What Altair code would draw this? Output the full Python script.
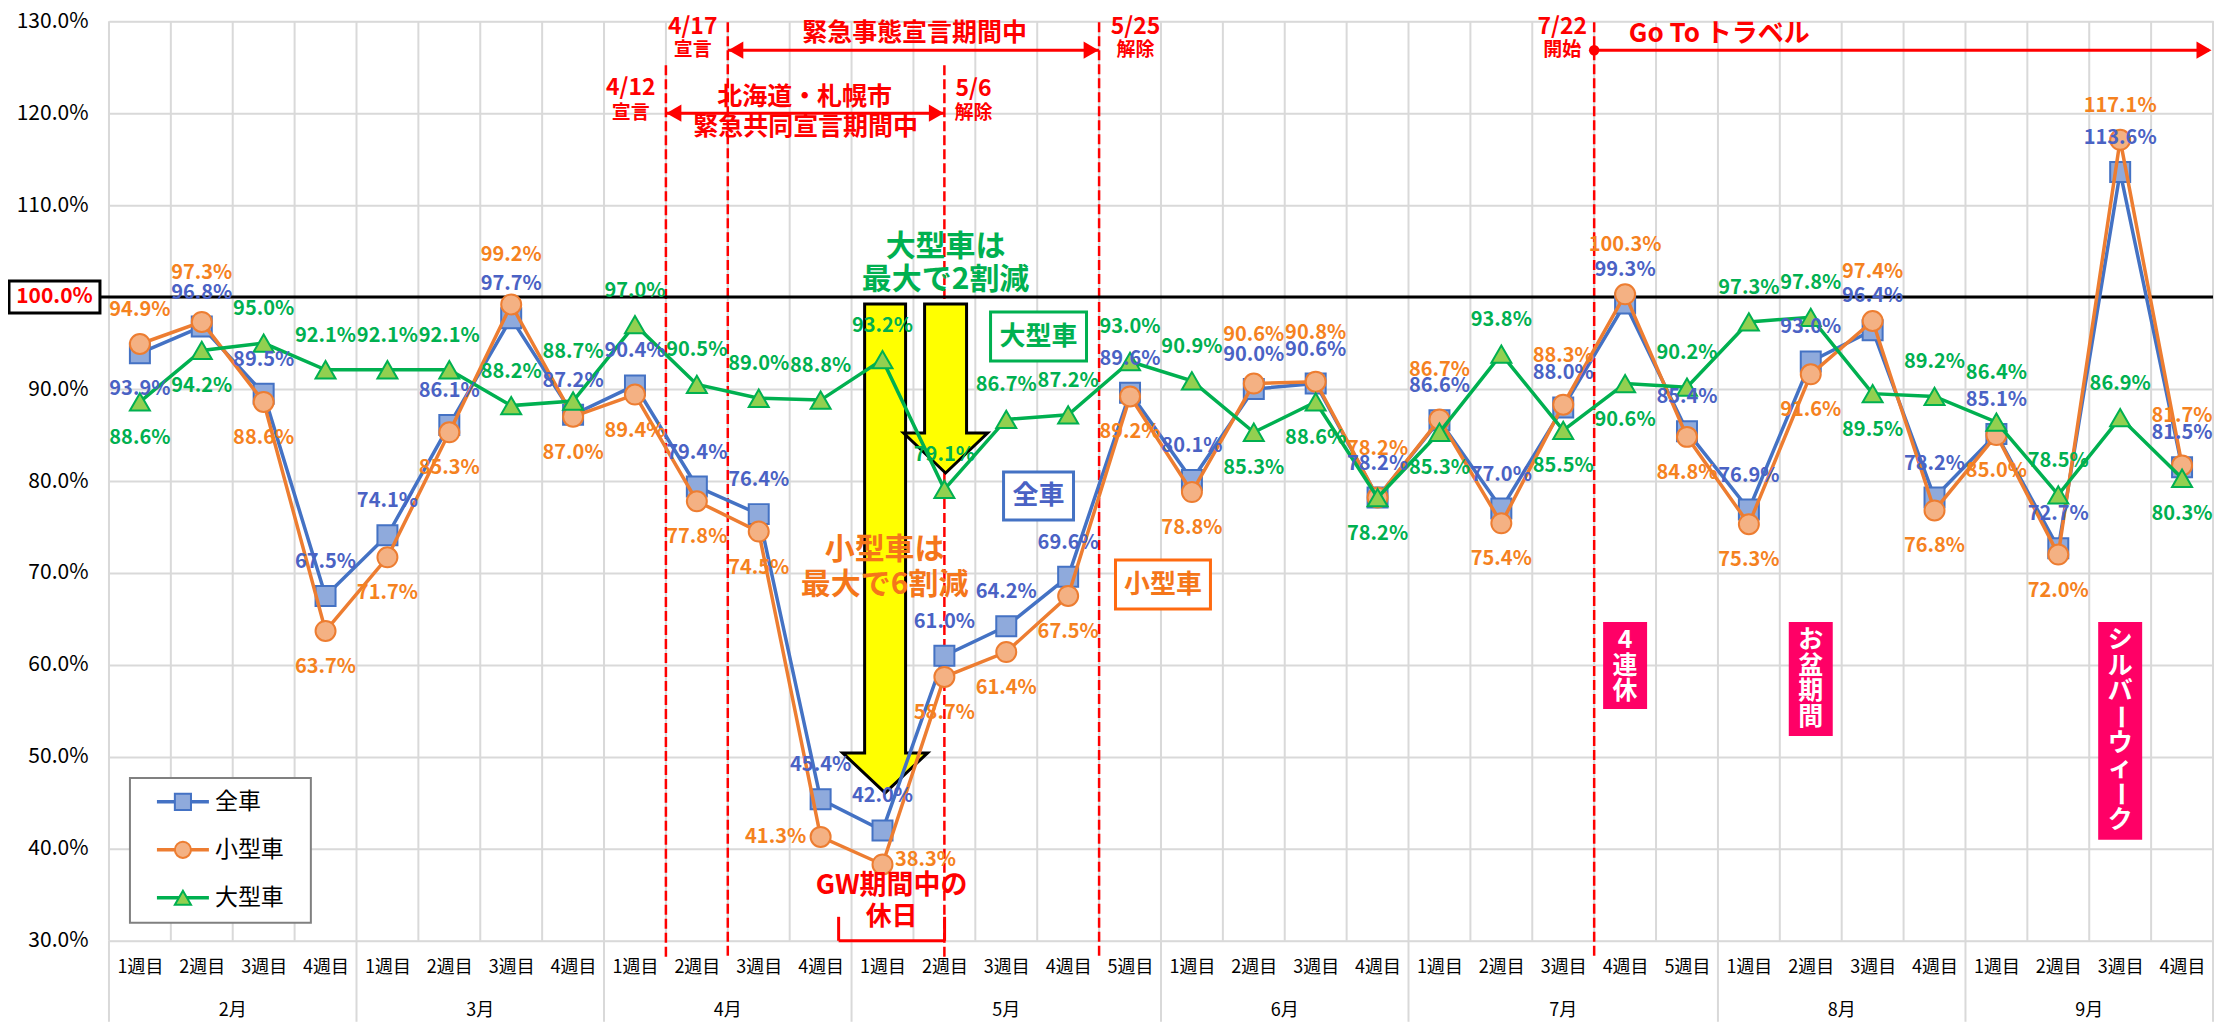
import altair as alt
import pandas as pd

# ---------------- data ----------------
week_labels = ["1週目", "2週目", "3週目", "4週目",
               "1週目", "2週目", "3週目", "4週目",
               "1週目", "2週目", "3週目", "4週目",
               "1週目", "2週目", "3週目", "4週目", "5週目",
               "1週目", "2週目", "3週目", "4週目",
               "1週目", "2週目", "3週目", "4週目", "5週目",
               "1週目", "2週目", "3週目", "4週目",
               "1週目", "2週目", "3週目", "4週目"]
months = ["2月", "3月", "4月", "5月", "6月", "7月", "8月", "9月"]
weeks_per_month = [4, 4, 4, 5, 4, 5, 4, 4]

series_names = ["全車", "小型車", "大型車"]
all_cars = [93.9, 96.8, 89.5, 67.5, 74.1, 86.1, 97.7, 87.2, 90.4, 79.4, 76.4, 45.4,
            42.0, 61.0, 64.2, 69.6, 89.6, 80.1, 90.0, 90.6, 78.2, 86.6, 77.0, 88.0,
            99.3, 85.4, 76.9, 93.0, 96.4, 78.2, 85.1, 72.7, 113.6, 81.5]
small_cars = [94.9, 97.3, 88.6, 63.7, 71.7, 85.3, 99.2, 87.0, 89.4, 77.8, 74.5, 41.3,
              38.3, 58.7, 61.4, 67.5, 89.2, 78.8, 90.6, 90.8, 78.2, 86.7, 75.4, 88.3,
              100.3, 84.8, 75.3, 91.6, 97.4, 76.8, 85.0, 72.0, 117.1, 81.7]
large_cars = [88.6, 94.2, 95.0, 92.1, 92.1, 92.1, 88.2, 88.7, 97.0, 90.5, 89.0, 88.8,
              93.2, 79.1, 86.7, 87.2, 93.0, 90.9, 85.3, 88.6, 78.2, 85.3, 93.8, 85.5,
              90.6, 90.2, 97.3, 97.8, 89.5, 89.2, 86.4, 78.5, 86.9, 80.3]

# data-label placement codes (a: above, A: higher above, b: below, l: left, r: right)
all_pos = ["b"] + ["a"] * 33
small_pos = ["a", "A", "b", "b", "b", "b", "A", "b", "b", "b", "b", "l", "r", "b", "b", "b", "b",
             "b", "A", "A", "A", "A", "b", "A", "A", "b", "b", "b", "A", "b", "b", "b", "a", "A"]
large_pos = ["b", "b", "a", "a", "a", "a", "a", "A", "a", "a", "a", "a", "a", "a", "a", "a", "a",
             "a", "b", "b", "b", "b", "a", "b", "b", "a", "a", "a", "b", "a", "A", "a", "a", "b"]

# ---------------- layout / style ----------------
W, H = 2105, 920
N = len(week_labels)
COLW = W / N
YMIN, YMAX = 30, 130
YPX = H / (YMAX - YMIN)
FONT = "Noto Sans CJK JP"
OFFSETS = {"a": (0, -34), "A": (0, -49), "b": (0, 36), "l": (-45, 0), "r": (43, -4)}

BLUE_LINE, BLUE_FILL, BLUE_TXT = "#4472C4", "#8FAADC", "#4A62C4"
ORANGE_LINE, ORANGE_FILL, ORANGE_TXT = "#ED7D31", "#F4B183", "#F5821F"
GREEN_LINE, GREEN_FILL, GREEN_TXT = "#00B050", "#92D050", "#00B050"
RED = "#FF0000"
PINK = "#FF0066"
GRID = "#D9D9D9"

styles = {
    "全車": dict(line=BLUE_LINE, fill=BLUE_FILL, txt=BLUE_TXT, shape="square"),
    "小型車": dict(line=ORANGE_LINE, fill=ORANGE_FILL, txt=ORANGE_TXT, shape="circle"),
    "大型車": dict(line=GREEN_LINE, fill=GREEN_FILL, txt=GREEN_TXT, shape="triangle-up"),
}

rows = []
for name, vals, pos in zip(series_names, [all_cars, small_cars, large_cars],
                           [all_pos, small_pos, large_pos]):
    for i, (v, p) in enumerate(zip(vals, pos)):
        dx, dy = OFFSETS[p]
        rows.append(dict(series=name, i=i, v=v, lx=i + dx / COLW, ly=v - dy / YPX,
                         label=f"{v:.1f}%", tc=styles[name]["txt"]))
df = pd.DataFrame(rows)


def xp(idx):
    return (idx + 0.5) * COLW


def ypx(val):
    return (YMAX - val) * YPX


xscale = alt.Scale(domain=[-0.5, N - 0.5], nice=False, zero=False)
yscale = alt.Scale(domain=[YMIN, YMAX], nice=False, zero=False)
label_array = "[" + ",".join(f"'{w}'" for w in week_labels) + "]"
xaxis = alt.Axis(values=list(range(N)), labelExpr=f"{label_array}[datum.value]",
                 grid=False, ticks=False, domain=False, labelFontSize=18,
                 labelPadding=18, labelColor="#000000", labelAngle=0,
                 labelOverlap=False, labelFont=FONT, title=None)
yaxis = alt.Axis(values=list(range(YMIN, YMAX + 1, 10)),
                 labelExpr="datum.value == 100 ? '' : format(datum.value, '.1f') + '%'",
                 grid=True, gridColor=GRID, gridWidth=2, ticks=False, domain=False,
                 labelFontSize=21, labelPadding=21, labelColor="#000000",
                 labelFont=FONT, title=None)

X = lambda f: alt.X(f, scale=xscale, axis=xaxis, title=None)
Y = lambda f: alt.Y(f, scale=yscale, axis=yaxis, title=None)
PX = lambda f: alt.X(f, scale=None, axis=None)
PY = lambda f: alt.Y(f, scale=None, axis=None)

BOTTOM_PAD = 81
layers = []

# vertical grid lines at category boundaries
bounds = pd.DataFrame({"b": [k - 0.5 for k in range(N + 1)]})
layers.append(alt.Chart(bounds).mark_rule(color=GRID, strokeWidth=2).encode(
    x=X("b:Q"), y=alt.value(0), y2=alt.value(H)))

# month separators below axis
sep = [-0.5]
for n in weeks_per_month:
    sep.append(sep[-1] + n)
layers.append(alt.Chart(pd.DataFrame({"b": sep})).mark_rule(color=GRID, strokeWidth=2).encode(
    x=X("b:Q"), y=alt.value(H), y2=alt.value(H + BOTTOM_PAD)))

# red dashed event lines
dash_df = pd.DataFrame([
    dict(x=xp(8.5), y1=44, y2=937),
    dict(x=xp(9.5), y1=1, y2=937),
    dict(x=xp(13), y1=44, y2=937),
    dict(x=xp(15.5), y1=1, y2=937),
    dict(x=xp(23.5), y1=1, y2=937),
])
layers.append(alt.Chart(dash_df).mark_rule(color=RED, strokeWidth=2.5, strokeDash=[10, 4]).encode(
    x=PX("x:Q"), y=PY("y1:Q"), y2="y2:Q"))

# 100% reference line
layers.append(alt.Chart(pd.DataFrame({"d": [0]})).mark_rule(color="#000000", strokeWidth=3).encode(
    y=alt.datum(100), x=alt.value(-9), x2=alt.value(W)))

# yellow arrows (custom symbol paths)
def arrow_path(a, b, h):
    return (f"M{-a:.4f},-1L{a:.4f},-1L{a:.4f},{h:.4f}L{b:.4f},{h:.4f}L0,1"
            f"L{-b:.4f},{h:.4f}L{-a:.4f},{h:.4f}Z")

big_h = 489.0
small_h = 169.0
yarrow = pd.DataFrame([
    dict(x=776.5, y=283 + big_h / 2, sz=big_h ** 2,
         shape=arrow_path(20.5 / (big_h / 2), 42.5 / (big_h / 2), (732 - (283 + big_h / 2)) / (big_h / 2))),
    dict(x=837.0, y=283 + small_h / 2, sz=small_h ** 2,
         shape=arrow_path(21 / (small_h / 2), 42 / (small_h / 2), (412 - (283 + small_h / 2)) / (small_h / 2))),
])
layers.append(alt.Chart(yarrow).mark_point(filled=True, opacity=1, fill="#FFFF00", stroke="#000000",
                                           strokeWidth=3, strokeJoin="miter").encode(
    x=PX("x:Q"), y=PY("y:Q"), shape=alt.Shape("shape:N", scale=None), size=alt.Size("sz:Q", scale=None)))

# boxes (series name boxes, pink event boxes, 100% box)
box_df = pd.DataFrame([
    dict(x1=882, x2=978, y1=291, y2=340, f="#FFFFFF", st=GREEN_LINE, sw=3),
    dict(x1=895, x2=965, y1=451, y2=499, f="#FFFFFF", st=BLUE_LINE, sw=3),
    dict(x1=1007, x2=1102, y1=539, y2=588, f="#FFFFFF", st="#FF6A10", sw=3),
    dict(x1=xp(24) - 22, x2=xp(24) + 22, y1=601, y2=688, f=PINK, st=PINK, sw=0),
    dict(x1=xp(27) - 22, x2=xp(27) + 22, y1=601, y2=715, f=PINK, st=PINK, sw=0),
    dict(x1=xp(32) - 22, x2=xp(32) + 22, y1=601, y2=819, f=PINK, st=PINK, sw=0),
    dict(x1=-100, x2=-9, y1=ypx(100) - 16, y2=ypx(100) + 16, f="#FFFFFF", st="#000000", sw=3),
])
layers.append(alt.Chart(box_df).mark_rect().encode(
    x=PX("x1:Q"), x2="x2:Q", y=PY("y1:Q"), y2="y2:Q",
    fill=alt.Fill("f:N", scale=None), stroke=alt.Stroke("st:N", scale=None),
    strokeWidth=alt.StrokeWidth("sw:Q", scale=None)))

# series lines + markers
for name in series_names:
    st = styles[name]
    base = alt.Chart(df).transform_filter(alt.datum.series == name)
    layers.append(base.mark_line(color=st["line"], strokeWidth=3.5).encode(x=X("i:Q"), y=Y("v:Q")))
    layers.append(base.mark_point(shape=st["shape"], size=400, filled=True, opacity=1,
                                  fill=st["fill"], stroke=st["line"], strokeWidth=2).encode(
        x=X("i:Q"), y=Y("v:Q")))

# data labels
layers.append(alt.Chart(df).mark_text(font=FONT, fontWeight="bold", fontSize=20,
                                      align="center", baseline="middle").encode(
    x=X("lx:Q"), y=Y("ly:Q"), text="label:N", color=alt.Color("tc:N", scale=None)))

# annotation texts
ann = pd.DataFrame([
    dict(x=522, y=67, t="4/12", c=RED, s=23),
    dict(x=522, y=92, t="宣言", c=RED, s=19),
    dict(x=584, y=6, t="4/17", c=RED, s=23),
    dict(x=584, y=29, t="宣言", c=RED, s=19),
    dict(x=865, y=68, t="5/6", c=RED, s=23),
    dict(x=865, y=92, t="解除", c=RED, s=19),
    dict(x=1027, y=6, t="5/25", c=RED, s=23),
    dict(x=1027, y=29, t="解除", c=RED, s=19),
    dict(x=1454, y=6, t="7/22", c=RED, s=23),
    dict(x=1454, y=29, t="開始", c=RED, s=19),
    dict(x=806, y=12, t="緊急事態宣言期間中", c=RED, s=25),
    dict(x=696, y=76, t="北海道・札幌市", c=RED, s=25),
    dict(x=697, y=106, t="緊急共同宣言期間中", c=RED, s=25),
    dict(x=1611, y=13, t="Go To トラベル", c=RED, s=26),
    dict(x=837, y=226, t="大型車は", c=GREEN_TXT, s=30),
    dict(x=837, y=259, t="最大で2割減", c=GREEN_TXT, s=30),
    dict(x=776, y=529, t="小型車は", c="#F5761A", s=30),
    dict(x=776, y=564, t="最大で6割減", c="#F5761A", s=30),
    dict(x=930, y=316, t="大型車", c=GREEN_TXT, s=26),
    dict(x=930, y=475, t="全車", c=BLUE_TXT, s=26),
    dict(x=1054.5, y=564, t="小型車", c="#F5761A", s=26),
    dict(x=783, y=865, t="GW期間中の", c=RED, s=27),
    dict(x=783, y=896, t="休日", c=RED, s=26),
    dict(x=-54.5, y=ypx(100), t="100.0%", c=RED, s=21),
])
layers.append(alt.Chart(ann).mark_text(font=FONT, fontWeight="bold", align="center",
                                       baseline="middle").encode(
    x=PX("x:Q"), y=PY("y:Q"), text="t:N", color=alt.Color("c:N", scale=None),
    size=alt.Size("s:Q", scale=None)))

# vertical texts in pink boxes
vrows = []
for word, idx in [("4連休", 24), ("お盆期間", 27), ("シルバーウィーク", 32)]:
    for k, ch in enumerate(word):
        vrows.append(dict(x=xp(idx), y=619 + k * 25.7, t=ch, a=90 if ch == "ー" else 0))
layers.append(alt.Chart(pd.DataFrame(vrows)).mark_text(font=FONT, fontWeight="bold", fontSize=25,
                                                       color="#FFFFFF", align="center",
                                                       baseline="middle").encode(
    x=PX("x:Q"), y=PY("y:Q"), text="t:N", angle=alt.Angle("a:Q", scale=None)))

# red solid arrows + bracket
solid = pd.DataFrame([
    dict(x1=xp(9.5), x2=xp(15.5), y1=29, y2=29),
    dict(x1=xp(8.5), x2=xp(13), y1=92, y2=92),
    dict(x1=xp(23.5), x2=W - 4, y1=29, y2=29),
    dict(x1=730, x2=836, y1=920, y2=920),
    dict(x1=730, x2=730, y1=896, y2=920),
    dict(x1=836, x2=836, y1=896, y2=920),
])
layers.append(alt.Chart(solid).mark_rule(color=RED, strokeWidth=3).encode(
    x=PX("x1:Q"), x2="x2:Q", y=PY("y1:Q"), y2="y2:Q"))

heads = pd.DataFrame([
    dict(x=xp(9.5) + 8, y=29, shape="triangle-left", sz=300),
    dict(x=xp(15.5) - 8, y=29, shape="triangle-right", sz=300),
    dict(x=xp(8.5) + 8, y=92, shape="triangle-left", sz=300),
    dict(x=xp(13) - 8, y=92, shape="triangle-right", sz=300),
    dict(x=W - 9, y=29, shape="triangle-right", sz=300),
    dict(x=xp(23.5), y=29, shape="circle", sz=110),
])
layers.append(alt.Chart(heads).mark_point(filled=True, opacity=1, color=RED).encode(
    x=PX("x:Q"), y=PY("y:Q"), shape=alt.Shape("shape:N", scale=None), size=alt.Size("sz:Q", scale=None)))

# legend
leg_box = pd.DataFrame([dict(x1=21, x2=202, y1=757, y2=902)])
layers.append(alt.Chart(leg_box).mark_rect(fill="#FFFFFF", stroke="#808080", strokeWidth=2).encode(
    x=PX("x1:Q"), x2="x2:Q", y=PY("y1:Q"), y2="y2:Q"))
leg_rows = []
for k, name in enumerate(series_names):
    leg_rows.append(dict(name=name, y=781 + 48 * k, line=styles[name]["line"],
                         fill=styles[name]["fill"], shape=styles[name]["shape"]))
leg = pd.DataFrame(leg_rows)
layers.append(alt.Chart(leg).mark_rule(strokeWidth=3.5).encode(
    x=alt.value(48), x2=alt.value(100), y=PY("y:Q"), color=alt.Color("line:N", scale=None)))
layers.append(alt.Chart(leg).mark_point(filled=True, opacity=1, size=260, strokeWidth=2).encode(
    x=alt.value(74), y=PY("y:Q"), shape=alt.Shape("shape:N", scale=None),
    fill=alt.Fill("fill:N", scale=None), stroke=alt.Stroke("line:N", scale=None)))
layers.append(alt.Chart(leg).mark_text(font=FONT, fontSize=23, color="#000000", align="left",
                                       baseline="middle").encode(
    x=alt.value(106), y=PY("y:Q"), text="name:N"))

# month labels
mrows = []
start = 0
for m, n in zip(months, weeks_per_month):
    mrows.append(dict(m=m, c=start + (n - 1) / 2))
    start += n
layers.append(alt.Chart(pd.DataFrame(mrows)).mark_text(font=FONT, fontSize=18, color="#000000",
                                                       baseline="middle").encode(
    x=X("c:Q"), y=alt.value(990), text="m:N"))

chart = alt.layer(*layers).properties(
    width=W, height=H,
    padding={"left": 101, "top": 13, "right": 2, "bottom": BOTTOM_PAD},
    autosize=alt.AutoSizeParams(type="none"),
    background="#FFFFFF",
).configure_view(strokeWidth=0).configure(font=FONT)

chart.save("out.html", embed_options={"renderer": "svg", "actions": False})
